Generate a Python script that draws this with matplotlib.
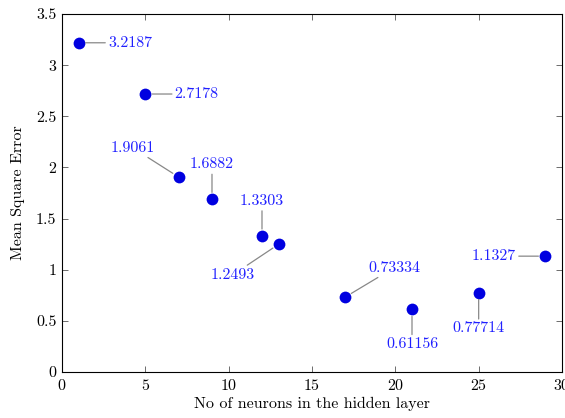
import matplotlib
matplotlib.use("Agg")
import matplotlib.pyplot as plt
from matplotlib.ticker import FuncFormatter

plt.rcParams['font.family'] = 'cmr10'
plt.rcParams['mathtext.fontset'] = 'cm'
plt.rcParams['axes.formatter.use_mathtext'] = True

# data
neurons = [1, 5, 7, 9, 12, 13, 17, 21, 25, 29]
mse = [3.2187, 2.7178, 1.9061, 1.6882, 1.3303, 1.2493, 0.73334, 0.61156, 0.77714, 1.1327]
labels = ['3.2187', '2.7178', '1.9061', '1.6882', '1.3303', '1.2493',
          '0.73334', '0.61156', '0.77714', '1.1327']
# label offsets (points)
offsets = [(37, 0), (37, 0), (-33, 21), (0, 25), (0, 25), (-33, -22),
           (35, 21), (0, -25), (0, -26), (-37, 0)]

fs = 11.5

fig = plt.figure(figsize=(5.65, 4.18), dpi=100)
ax = fig.add_axes([0.1097, 0.110, 0.885, 0.8565])

ax.scatter(neurons, mse, s=72, color='#0000e0', zorder=3, linewidths=0)

for x, y, t, off in zip(neurons, mse, labels, offsets):
    ax.annotate(t, xy=(x, y), xytext=off, textcoords='offset points',
                ha='center', va='center', fontsize=fs, color='#2020ff',
                arrowprops=dict(arrowstyle='-', color='#888888', lw=0.9,
                                shrinkA=0, shrinkB=5))

ax.set_xlim(0, 30)
ax.set_ylim(0, 3.5)
ax.set_xticks(range(0, 31, 5))
ax.set_yticks([0, 0.5, 1, 1.5, 2, 2.5, 3, 3.5])
ax.yaxis.set_major_formatter(FuncFormatter(lambda v, p: '%g' % v))
ax.tick_params(direction='in', top=True, right=True, length=4, width=0.6,
               color='#555555', labelsize=fs, pad=4)
for s in ax.spines.values():
    s.set_linewidth(0.8)

ax.set_xlabel('No of neurons in the hidden layer', fontsize=fs, labelpad=3)
ax.set_ylabel('Mean Square Error', fontsize=fs, labelpad=8)

fig.savefig('out.png', dpi=100)
